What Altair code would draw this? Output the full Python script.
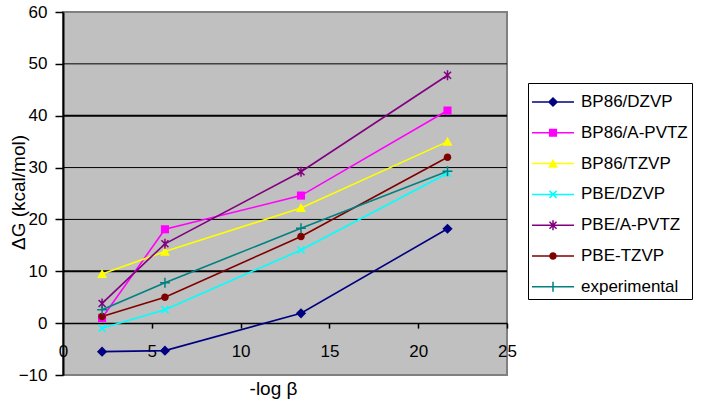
import math
import altair as alt
import pandas as pd

# ---------------- data ----------------
series = ["BP86/DZVP", "BP86/A-PVTZ", "BP86/TZVP", "PBE/DZVP",
          "PBE/A-PVTZ", "PBE-TZVP", "experimental"]
log_beta = [2.2, 5.74, 13.4, 21.65]
bp86_dzvp = [-5.5, -5.3, 1.9, 18.2]
bp86_apvtz = [1.0, 18.1, 24.6, 41.0]
bp86_tzvp = [9.5, 13.8, 22.2, 35.0]
pbe_dzvp = [-1.0, 2.6, 14.1, 28.9]
pbe_apvtz = [3.8, 15.3, 29.2, 47.8]
pbe_tzvp = [1.3, 5.0, 16.7, 32.0]
experimental = [2.6, 7.8, 18.3, 29.3]
grid_values = [10, 20, 30, 40, 50]
x_ticks = [0, 5, 10, 15, 20, 25]
y_ticks = [-10, 0, 10, 20, 30, 40, 50, 60]
colors = ["#000080", "#FF00FF", "#FFFF00", "#00FFFF", "#800080", "#800000", "#008080"]

values = [bp86_dzvp, bp86_apvtz, bp86_tzvp, pbe_dzvp, pbe_apvtz, pbe_tzvp, experimental]
rows = []
for name, vals in zip(series, values):
    for xv, yv in zip(log_beta, vals):
        rows.append({"series": name, "logb": xv, "dG": yv})
df = pd.DataFrame(rows)
grid_df = pd.DataFrame({"dG": grid_values})

# ---------------- marker paths (unit = 15 px at size 900) ----------------
def poly(pts):
    return "M" + "L".join(f"{x:.3f},{y:.3f}" for x, y in pts) + "Z"

def rot(pts, a):
    c, s = math.cos(a), math.sin(a)
    return [(x * c - y * s, x * s + y * c) for x, y in pts]

L, W = 0.33, 0.05
plus_pts = [(-W, -L), (W, -L), (W, -W), (L, -W), (L, W), (W, W), (W, L),
            (-W, L), (-W, W), (-L, W), (-L, -W), (-W, -W)]
diamond = poly([(0, -0.34), (0.34, 0), (0, 0.34), (-0.34, 0)])
square = poly([(-0.27, -0.27), (0.27, -0.27), (0.27, 0.27), (-0.27, 0.27)])
triangle = poly([(0, -0.33), (0.33, 0.27), (-0.33, 0.27)])
xshape = poly(rot(plus_pts, math.pi / 4))
vbar = poly([(-W, -L), (W, -L), (W, L), (-W, L)])
asterisk = xshape + vbar
r = 0.25
circle = f"M{r},0A{r},{r},0,1,1,{-r},0A{r},{r},0,1,1,{r},0Z"
plus = poly(plus_pts)
plot_shapes = [diamond, square, triangle, xshape, asterisk, circle, plus]
seg = poly([(-1.4, -0.05), (1.4, -0.05), (1.4, 0.05), (-1.4, 0.05)])
legend_shapes = [seg + s for s in plot_shapes]

FONT = "Liberation Sans"

x_scale = alt.Scale(domain=[0, 25], nice=False, zero=False)
y_scale = alt.Scale(domain=[-10, 60], nice=False, zero=False)

x_axis = alt.Axis(values=x_ticks, offset=-51.9, grid=False, domainColor="black",
                  domainWidth=1.5, tickColor="black", tickSize=5, tickWidth=1.5,
                  labelPadding=15, labelFont=FONT, labelFontSize=17, labelColor="black",
                  labelFlush=False, title="-log β", titleFont=FONT, titleFontSize=19,
                  titleFontWeight="normal", titleColor="black", titleX=210, titleY=65,
                  titleBaseline="middle", titleAlign="center")
y_axis = alt.Axis(values=y_ticks, grid=False, domainColor="black", domainWidth=2,
                  tickColor="black", tickSize=8, tickWidth=1.5, labelPadding=8,
                  labelFont=FONT, labelFontSize=17, labelColor="black", labelFlush=False,
                  title="ΔG (kcal/mol)", titleFont=FONT, titleFontSize=19,
                  titleFontWeight="normal", titleColor="black", titleX=-45, titleY=180,
                  titleAngle=270, titleBaseline="middle", titleAlign="center")

X = alt.X("logb:Q", scale=x_scale, axis=x_axis)
Y = alt.Y("dG:Q", scale=y_scale, axis=y_axis)

grid = alt.Chart(grid_df).mark_rule(color="black").encode(
    y=Y,
    strokeWidth=alt.condition("datum.dG % 30 == 10", alt.value(2), alt.value(1)),
)

lines = alt.Chart(df).mark_line(strokeWidth=1.6).encode(
    x=X, y=Y,
    stroke=alt.Stroke("series:N", scale=alt.Scale(domain=series, range=colors), legend=None),
)

points = alt.Chart(df).mark_point(filled=True, size=900, opacity=1, strokeWidth=0).encode(
    x=X, y=Y,
    fill=alt.Fill("series:N", scale=alt.Scale(domain=series, range=colors), legend=None),
    shape=alt.Shape("series:N", scale=alt.Scale(domain=series, range=plot_shapes), legend=None),
)

leg = alt.Legend(title=None, orient="none", legendX=465, legendY=71, direction="vertical",
                 padding=4, strokeColor="black", fillColor="white",
                 symbolSize=900, symbolStrokeWidth=0, symbolOffset=6, labelOffset=13,
                 rowPadding=7.8, labelFont=FONT, labelFontSize=17, labelColor="black",
                 labelLimit=300)

legend_layer = alt.Chart(df).transform_filter("false").mark_point(
    filled=True, size=900, opacity=1, strokeWidth=0).encode(
    x=X, y=Y,
    color=alt.Color("series:N", scale=alt.Scale(domain=series, range=colors), legend=leg),
    shape=alt.Shape("series:N", scale=alt.Scale(domain=series, range=legend_shapes), legend=leg),
)

chart = alt.layer(grid, lines, points, legend_layer).resolve_scale(
    shape="independent", color="independent"
).properties(
    width=444, height=363,
    autosize=alt.AutoSizeParams(type="none"),
    padding={"left": 63, "top": 12, "right": 199, "bottom": 29},
    background="white",
).configure_view(fill="#C0C0C0", stroke="#808080", strokeWidth=2)

chart.save("out.html", embed_options={"renderer": "svg", "actions": False})
